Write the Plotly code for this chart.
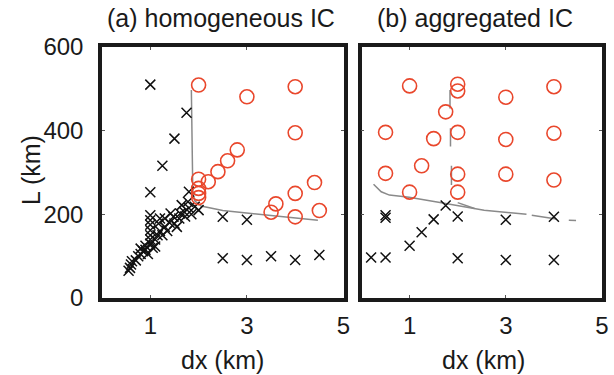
import plotly.graph_objects as go

# ---------------- data: panel (a) homogeneous IC ----------------
a_circle_dx = [2.0, 3.0, 4.0, 4.0, 2.8, 2.6, 2.4, 2.2, 2.0, 2.0, 2.0, 2.0, 4.4, 4.0, 3.6, 3.5, 4.0, 4.5]
a_circle_L = [509, 481, 505, 395, 354, 328, 302, 278, 284, 262, 250, 240, 276, 250, 225, 205, 194, 209]

a_cross_dx = [1.0, 1.75, 1.5, 1.25, 1.0, 1.8, 2.5, 3.0, 2.5, 3.0, 3.5, 4.0, 4.5,
              0.55, 0.58, 0.6, 0.62, 0.7, 0.75, 0.8, 0.8, 0.85, 0.9, 0.9,
              1.0, 1.0, 1.0, 1.0, 1.0, 1.0, 1.0, 1.1, 1.1, 1.15, 1.17, 1.2,
              1.25, 1.3, 1.35, 1.4, 1.42, 1.48, 1.5, 1.55, 1.6, 1.62, 1.65,
              1.7, 1.72, 1.78, 1.8, 1.85, 1.92, 2.0, 1.3, 1.2, 0.95, 1.05]
a_cross_L = [510, 443, 381, 316, 253, 254, 194, 187, 95, 91, 100, 91, 103,
             65, 72, 80, 88, 90, 100, 105, 118, 112, 115, 125,
             130, 140, 150, 162, 175, 186, 198, 123, 140, 150, 178, 160,
             150, 170, 160, 180, 202, 194, 178, 170, 190, 202, 222,
             206, 195, 230, 215, 200, 218, 210, 190, 190, 105, 120]

a_line_dx = [1.85, 1.86, 1.87, 1.88, 1.92, 2.05, 2.5, 3.04, 3.5, 4.47]
a_line_L = [497, 400, 300, 255, 232, 220, 209, 202, 197, 186]

# ---------------- data: panel (b) aggregated IC ----------------
b_circle_dx = [1.0, 2.0, 2.0, 1.75, 3.0, 4.0, 0.5, 1.5, 2.0, 3.0, 4.0, 0.5, 1.25, 2.0, 3.0, 4.0, 1.0, 2.0]
b_circle_L = [507, 511, 495, 445, 480, 505, 396, 381, 396, 379, 394, 298, 316, 296, 296, 282, 253, 253]

b_cross_dx = [0.5, 0.5, 1.5, 1.75, 2.0, 1.25, 1.0, 3.0, 4.0, 0.2, 0.5, 2.0, 3.0, 4.0]
b_cross_L = [198, 192, 188, 221, 195, 157, 125, 187, 194, 97, 97, 95, 91, 91]

b_line_dx = [1.84, 1.84, None, 1.85, 1.85, None, 1.87, 1.87, None,
             0.25, 0.41, 0.58, 0.99, 1.6, 2.14, 2.55, 3.43, None,
             3.54, 4.05, None, 4.31, 4.46, None, 2.0, 2.35]
b_line_L = [497, 453, None, 406, 362, None, 316, 270, None,
            272, 254, 246, 241, 229, 218, 210, 200, None,
            198, 189, None, 186, 185, None, 228, 214]

x_ticks = [1, 3, 5]
y_ticks = [0, 200, 400, 600]

RED = "#E9472C"
GRAY = "#8A8A8A"
FONT = "Arial"

fig = go.Figure()

def add_panel(xa, ya, line_dx, line_L, circ_dx, circ_L, cross_dx, cross_L):
    fig.add_trace(go.Scatter(x=line_dx, y=line_L, mode="lines", xaxis=xa, yaxis=ya,
                             line=dict(color=GRAY, width=1.5), connectgaps=False,
                             showlegend=False, hoverinfo="skip"))
    fig.add_trace(go.Scatter(x=cross_dx, y=cross_L, mode="markers", xaxis=xa, yaxis=ya,
                             marker=dict(symbol="x-thin", size=10, color="black",
                                         line=dict(width=1.5, color="#111111")),
                             showlegend=False))
    fig.add_trace(go.Scatter(x=circ_dx, y=circ_L, mode="markers", xaxis=xa, yaxis=ya,
                             marker=dict(symbol="circle-open", size=14, color=RED,
                                         line=dict(width=1.6, color=RED)),
                             showlegend=False))

add_panel("x", "y", a_line_dx, a_line_L, a_circle_dx, a_circle_L, a_cross_dx, a_cross_L)
add_panel("x2", "y2", b_line_dx, b_line_L, b_circle_dx, b_circle_L, b_cross_dx, b_cross_L)

axis_common = dict(showgrid=False, zeroline=False, showline=True, linecolor="#1a1a1a",
                   linewidth=3.5, mirror="ticks", ticks="inside", ticklen=3,
                   tickcolor="#555555", tickwidth=1,
                   tickfont=dict(family=FONT, size=24, color="#1a1a1a"))

fig.update_layout(
    width=614, height=375,
    margin=dict(l=102, r=5, t=47, b=77),
    paper_bgcolor="white", plot_bgcolor="white",
    font=dict(family=FONT),
    xaxis=dict(domain=[0, 0.483], range=[0, 5], tickvals=x_ticks, anchor="y",
               ticklabelstandoff=3, **axis_common),
    xaxis2=dict(domain=[0.519, 1], range=[0, 5], tickvals=x_ticks, anchor="y2",
                ticklabelstandoff=3, **axis_common),
    yaxis=dict(domain=[0, 1], range=[0, 600], tickvals=y_ticks, anchor="x",
               ticklabelstandoff=10, **axis_common),
    yaxis2=dict(domain=[0, 1], range=[0, 600], tickvals=y_ticks, anchor="x2",
                showticklabels=False, **axis_common),
    annotations=[
        dict(text="(a) homogeneous IC", x=0.237, y=1.115, xref="paper", yref="paper",
             showarrow=False, xanchor="center", yanchor="middle",
             font=dict(family=FONT, size=25, color="#1a1a1a")),
        dict(text="(b) aggregated IC", x=0.746, y=1.115, xref="paper", yref="paper",
             showarrow=False, xanchor="center", yanchor="middle",
             font=dict(family=FONT, size=25, color="#1a1a1a")),
        dict(text="dx (km)", x=0.241, y=-0.247, xref="paper", yref="paper",
             showarrow=False, xanchor="center", yanchor="middle",
             font=dict(family=FONT, size=25, color="#1a1a1a")),
        dict(text="dx (km)", x=0.763, y=-0.247, xref="paper", yref="paper",
             showarrow=False, xanchor="center", yanchor="middle",
             font=dict(family=FONT, size=25, color="#1a1a1a")),
        dict(text="L (km)", x=-0.142, y=0.51, xref="paper", yref="paper", textangle=-90,
             showarrow=False, xanchor="center", yanchor="middle",
             font=dict(family=FONT, size=25, color="#1a1a1a")),
    ],
)

fig.write_html("out.html")
